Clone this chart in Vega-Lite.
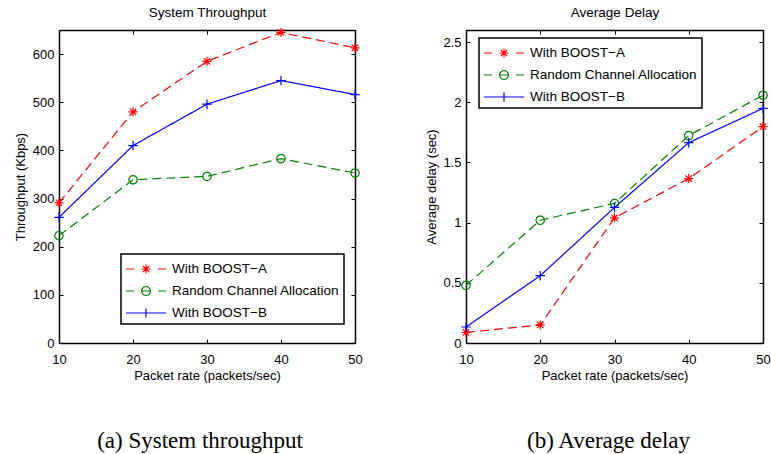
{
  "$schema": "https://vega.github.io/schema/vega-lite/v6.json",
  "padding": {"left": 14, "top": 5, "right": 0, "bottom": 0},
  "background": "#ffffff",
  "datasets": {
    "tp": [
      {"rate": 10, "series": "With BOOST−A", "value": 291},
      {"rate": 20, "series": "With BOOST−A", "value": 480},
      {"rate": 30, "series": "With BOOST−A", "value": 585},
      {"rate": 40, "series": "With BOOST−A", "value": 645},
      {"rate": 50, "series": "With BOOST−A", "value": 613},
      {"rate": 10, "series": "Random Channel Allocation", "value": 223},
      {"rate": 20, "series": "Random Channel Allocation", "value": 339},
      {"rate": 30, "series": "Random Channel Allocation", "value": 346},
      {"rate": 40, "series": "Random Channel Allocation", "value": 383},
      {"rate": 50, "series": "Random Channel Allocation", "value": 353},
      {"rate": 10, "series": "With BOOST−B", "value": 261},
      {"rate": 20, "series": "With BOOST−B", "value": 410},
      {"rate": 30, "series": "With BOOST−B", "value": 496},
      {"rate": 40, "series": "With BOOST−B", "value": 545},
      {"rate": 50, "series": "With BOOST−B", "value": 516}
    ],
    "dl": [
      {"rate": 10, "series": "With BOOST−A", "value": 0.088},
      {"rate": 20, "series": "With BOOST−A", "value": 0.15},
      {"rate": 30, "series": "With BOOST−A", "value": 1.04},
      {"rate": 40, "series": "With BOOST−A", "value": 1.366},
      {"rate": 50, "series": "With BOOST−A", "value": 1.797},
      {"rate": 10, "series": "Random Channel Allocation", "value": 0.479},
      {"rate": 20, "series": "Random Channel Allocation", "value": 1.02},
      {"rate": 30, "series": "Random Channel Allocation", "value": 1.16},
      {"rate": 40, "series": "Random Channel Allocation", "value": 1.723},
      {"rate": 50, "series": "Random Channel Allocation", "value": 2.058},
      {"rate": 10, "series": "With BOOST−B", "value": 0.133},
      {"rate": 20, "series": "With BOOST−B", "value": 0.559},
      {"rate": 30, "series": "With BOOST−B", "value": 1.126},
      {"rate": 40, "series": "With BOOST−B", "value": 1.664},
      {"rate": 50, "series": "With BOOST−B", "value": 1.949}
    ]
  },
  "hconcat": [
    {
      "width": 296,
      "height": 313,
      "data": {"name": "tp"},
      "title": {"text": "(a) System throughput", "orient": "bottom", "anchor": "middle", "font": "Liberation Serif", "fontSize": 23, "fontWeight": "normal", "color": "#000", "offset": 48, "dx": -7},
      "layer": [
        {
          "mark": {"type": "line", "strokeWidth": 1.2, "strokeDash": {"expr": "datum.series === 'With BOOST−B' ? [1, 0] : [9, 5]"}},
          "encoding": {
            "x": {"field": "rate", "type": "quantitative", "scale": {"domain": [10, 50]}, "axis": {"orient": "bottom", "values": [10, 20, 30, 40, 50], "title": "Packet rate (packets/sec)", "labelPadding": 14, "titlePadding": 3}},
            "y": {"field": "value", "type": "quantitative", "scale": {"domain": [0, 650]}, "axis": {"orient": "left", "values": [0, 100, 200, 300, 400, 500, 600], "title": "Throughput (Kbps)", "labelPadding": 9, "titlePadding": 5}},
            "color": {"field": "series", "type": "nominal", "scale": {"domain": ["With BOOST−A", "Random Channel Allocation", "With BOOST−B"], "range": ["#ff0000", "#008000", "#0000ff"]},
              "legend": {"orient": "none", "legendX": 62, "legendY": 224, "title": null, "padding": 4, "strokeColor": "#000", "fillColor": "#fff", "symbolSize": 400, "symbolOffset": 10, "labelOffset": 15, "labelLimit": 400, "rowPadding": 4, "labelFont": "Liberation Sans", "labelFontSize": 13.5, "labelColor": "#000", "symbolStrokeWidth": 1.2,
                "encode": {
                  "legend": {"update": {"strokeWidth": {"value": 1.5}}},
                  "symbols": {"update": {
                    "shape": {"signal": "['M-2,0H-1.2M-0.4,0H0.4M1.2,0H2M-0.45,0H0.45M0,-0.45V0.45M-0.32,-0.32L0.32,0.32M-0.32,0.32L0.32,-0.32', 'M-2,0H-1.2M-0.5,0H0.5M1.2,0H2M0.45,0L0.39,0.225L0.225,0.39L0,0.45L-0.225,0.39L-0.39,0.225L-0.45,0L-0.39,-0.225L-0.225,-0.39L0,-0.45L0.225,-0.39L0.39,-0.225Z', 'M-2,0H2M0,-0.45V0.45'][datum.index]"},
                    "fill": {"value": "transparent"},
                    "strokeDash": {"value": [1, 0]}
                  }}
                }
              }
            }
          }
        },
        {
          "transform": [{"filter": "datum.series === 'With BOOST−A'"}],
          "mark": {"type": "point", "filled": false, "color": "#ff0000", "strokeWidth": 1.2, "size": 100, "opacity": 1, "shape": "M-0.9,0H0.9M0,-0.9V0.9M-0.64,-0.64L0.64,0.64M-0.64,0.64L0.64,-0.64"},
          "encoding": {
            "x": {"field": "rate", "type": "quantitative", "axis": null},
            "y": {"field": "value", "type": "quantitative", "axis": null}
          }
        },
        {
          "transform": [{"filter": "datum.series === 'Random Channel Allocation'"}],
          "mark": {"type": "point", "filled": false, "color": "#008000", "strokeWidth": 1.2, "size": 100, "opacity": 1, "shape": "M0.85,0L0.736,0.425L0.425,0.736L0,0.85L-0.425,0.736L-0.736,0.425L-0.85,0L-0.736,-0.425L-0.425,-0.736L0,-0.85L0.425,-0.736L0.736,-0.425Z"},
          "encoding": {
            "x": {"field": "rate", "type": "quantitative", "axis": null},
            "y": {"field": "value", "type": "quantitative", "axis": null}
          }
        },
        {
          "transform": [{"filter": "datum.series === 'With BOOST−B'"}],
          "mark": {"type": "point", "filled": false, "color": "#0000ff", "strokeWidth": 1.2, "size": 100, "opacity": 1, "shape": "M-0.95,0H0.95M0,-0.95V0.95"},
          "encoding": {
            "x": {"field": "rate", "type": "quantitative", "axis": {"orient": "top", "values": [10, 20, 30, 40, 50], "labels": false, "title": "System Throughput", "titleFontSize": 13.5, "titlePadding": 10}},
            "y": {"field": "value", "type": "quantitative", "axis": {"orient": "right", "values": [0, 100, 200, 300, 400, 500, 600], "labels": false, "title": null}}
          }
        }
      ],
      "resolve": {"axis": {"x": "independent", "y": "independent"}}
    },
    {
      "width": 297,
      "height": 313,
      "data": {"name": "dl"},
      "title": {"text": "(b) Average delay", "orient": "bottom", "anchor": "middle", "font": "Liberation Serif", "fontSize": 23, "fontWeight": "normal", "color": "#000", "offset": 48, "dx": -6},
      "layer": [
        {
          "mark": {"type": "line", "strokeWidth": 1.2, "strokeDash": {"expr": "datum.series === 'With BOOST−B' ? [1, 0] : [9, 5]"}},
          "encoding": {
            "x": {"field": "rate", "type": "quantitative", "scale": {"domain": [10, 50]}, "axis": {"orient": "bottom", "values": [10, 20, 30, 40, 50], "title": "Packet rate (packets/sec)", "labelPadding": 14, "titlePadding": 3}},
            "y": {"field": "value", "type": "quantitative", "scale": {"domain": [0, 2.5]}, "axis": {"orient": "left", "values": [0, 0.5, 1, 1.5, 2, 2.5], "format": "~g", "title": "Average delay (sec)", "labelPadding": 9, "titlePadding": 4}},
            "color": {"field": "series", "type": "nominal", "scale": {"domain": ["With BOOST−A", "Random Channel Allocation", "With BOOST−B"], "range": ["#ff0000", "#008000", "#0000ff"]},
              "legend": {"orient": "none", "legendX": 13, "legendY": 8, "title": null, "padding": 4, "strokeColor": "#000", "fillColor": "#fff", "symbolSize": 400, "symbolOffset": 10, "labelOffset": 15, "labelLimit": 400, "rowPadding": 4, "labelFont": "Liberation Sans", "labelFontSize": 13.5, "labelColor": "#000", "symbolStrokeWidth": 1.2,
                "encode": {
                  "legend": {"update": {"strokeWidth": {"value": 1.5}}},
                  "symbols": {"update": {
                    "shape": {"signal": "['M-2,0H-1.2M-0.4,0H0.4M1.2,0H2M-0.45,0H0.45M0,-0.45V0.45M-0.32,-0.32L0.32,0.32M-0.32,0.32L0.32,-0.32', 'M-2,0H-1.2M-0.5,0H0.5M1.2,0H2M0.45,0L0.39,0.225L0.225,0.39L0,0.45L-0.225,0.39L-0.39,0.225L-0.45,0L-0.39,-0.225L-0.225,-0.39L0,-0.45L0.225,-0.39L0.39,-0.225Z', 'M-2,0H2M0,-0.45V0.45'][datum.index]"},
                    "fill": {"value": "transparent"},
                    "strokeDash": {"value": [1, 0]}
                  }}
                }
              }
            }
          }
        },
        {
          "transform": [{"filter": "datum.series === 'With BOOST−A'"}],
          "mark": {"type": "point", "filled": false, "color": "#ff0000", "strokeWidth": 1.2, "size": 100, "opacity": 1, "shape": "M-0.9,0H0.9M0,-0.9V0.9M-0.64,-0.64L0.64,0.64M-0.64,0.64L0.64,-0.64"},
          "encoding": {
            "x": {"field": "rate", "type": "quantitative", "axis": null},
            "y": {"field": "value", "type": "quantitative", "axis": null}
          }
        },
        {
          "transform": [{"filter": "datum.series === 'Random Channel Allocation'"}],
          "mark": {"type": "point", "filled": false, "color": "#008000", "strokeWidth": 1.2, "size": 100, "opacity": 1, "shape": "M0.85,0L0.736,0.425L0.425,0.736L0,0.85L-0.425,0.736L-0.736,0.425L-0.85,0L-0.736,-0.425L-0.425,-0.736L0,-0.85L0.425,-0.736L0.736,-0.425Z"},
          "encoding": {
            "x": {"field": "rate", "type": "quantitative", "axis": null},
            "y": {"field": "value", "type": "quantitative", "axis": null}
          }
        },
        {
          "transform": [{"filter": "datum.series === 'With BOOST−B'"}],
          "mark": {"type": "point", "filled": false, "color": "#0000ff", "strokeWidth": 1.2, "size": 100, "opacity": 1, "shape": "M-0.95,0H0.95M0,-0.95V0.95"},
          "encoding": {
            "x": {"field": "rate", "type": "quantitative", "axis": {"orient": "top", "values": [10, 20, 30, 40, 50], "labels": false, "title": "Average Delay", "titleFontSize": 13.5, "titlePadding": 10}},
            "y": {"field": "value", "type": "quantitative", "axis": {"orient": "right", "values": [0, 0.5, 1, 1.5, 2, 2.5], "labels": false, "title": null}}
          }
        }
      ],
      "resolve": {"axis": {"x": "independent", "y": "independent"}}
    }
  ],
  "spacing": 62,
  "resolve": {"scale": {"color": "independent"}, "legend": {"color": "independent"}},
  "config": {
    "font": "Liberation Sans",
    "view": {"stroke": null},
    "axis": {"domainColor": "#000", "domainWidth": 1.5, "tickColor": "#000", "tickWidth": 1, "tickSize": -4, "labelColor": "#000", "labelFontSize": 13, "labelFont": "Liberation Sans", "titleFont": "Liberation Sans", "titleFontSize": 13, "titleFontWeight": "normal", "titleColor": "#000", "grid": false, "labelFlush": false, "labelOverlap": false, "labelBound": false}
  }
}
